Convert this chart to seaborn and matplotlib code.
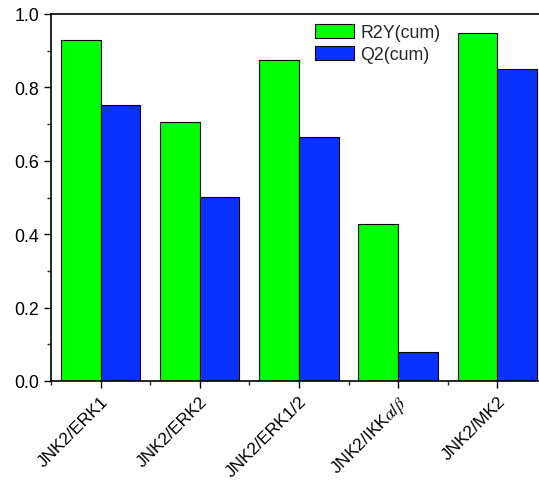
import matplotlib
matplotlib.use("Agg")
import matplotlib.pyplot as plt
from matplotlib.ticker import MultipleLocator, FixedLocator
import seaborn as sns
import pandas as pd

# -------------------------------
# Data
# -------------------------------
pairs = ["JNK2/ERK1", "JNK2/ERK2", "JNK2/ERK1/2", "JNK2/IKK$\\alpha$/$\\beta$", "JNK2/MK2"]
r2y_cum = [0.929, 0.707, 0.875, 0.427, 0.949]
q2_cum = [0.752, 0.501, 0.664, 0.078, 0.849]
series_names = ["R2Y(cum)", "Q2(cum)"]
colors = ["#00FF00", "#0A32FF"]

df = pd.DataFrame({
    "pair": pairs * 2,
    "value": r2y_cum + q2_cum,
    "series": [series_names[0]] * len(pairs) + [series_names[1]] * len(pairs),
})

# -------------------------------
# Style
# -------------------------------
sns.set_style("ticks")
plt.rcParams["font.family"] = ["Liberation Sans", "DejaVu Sans"]
plt.rcParams["mathtext.fontset"] = "stix"
fs = 12.8
plt.rcParams["font.size"] = fs

fig = plt.figure(figsize=(5.39, 4.81), dpi=100)
ax = fig.add_axes([51 / 539, 99 / 481, 488 / 539, 367 / 481])

sns.barplot(data=df, x="pair", y="value", hue="series", palette=colors,
            edgecolor="black", linewidth=0.8, width=0.8, ax=ax, saturation=1)

ax.set_xlim(-0.5, 4.42)
ax.set_ylim(0, 1.0)
ax.set_xlabel("")
ax.set_ylabel("")

ax.yaxis.set_major_locator(MultipleLocator(0.2))
ax.yaxis.set_minor_locator(MultipleLocator(0.1))
ax.xaxis.set_minor_locator(FixedLocator([-0.5, 0.5, 1.5, 2.5, 3.5]))
ax.tick_params(axis="both", which="major", direction="out", length=5, width=1,
               labelsize=fs, colors="black")
ax.tick_params(axis="both", which="minor", direction="out", length=3, width=1)
ax.set_yticklabels([f"{v:.1f}" for v in ax.get_yticks()])

for lbl in ax.get_xticklabels():
    lbl.set_rotation(45)
    lbl.set_ha("right")
    lbl.set_rotation_mode("anchor")
    lbl.set_fontsize(12.5)

for side in ["left", "bottom", "top"]:
    ax.spines[side].set_visible(True)
    ax.spines[side].set_linewidth(1.2)
    ax.spines[side].set_color("black")
ax.spines["right"].set_visible(False)

leg = ax.legend(loc="upper left", bbox_to_anchor=(0.541, 0.974), frameon=False,
                handlelength=2.2, handleheight=0.85, handletextpad=0.35,
                labelspacing=0.3, borderpad=0, borderaxespad=0, fontsize=fs)
for h in leg.legend_handles:
    h.set_edgecolor("black")
    h.set_linewidth(0.8)

fig.savefig("out.png", dpi=100)
